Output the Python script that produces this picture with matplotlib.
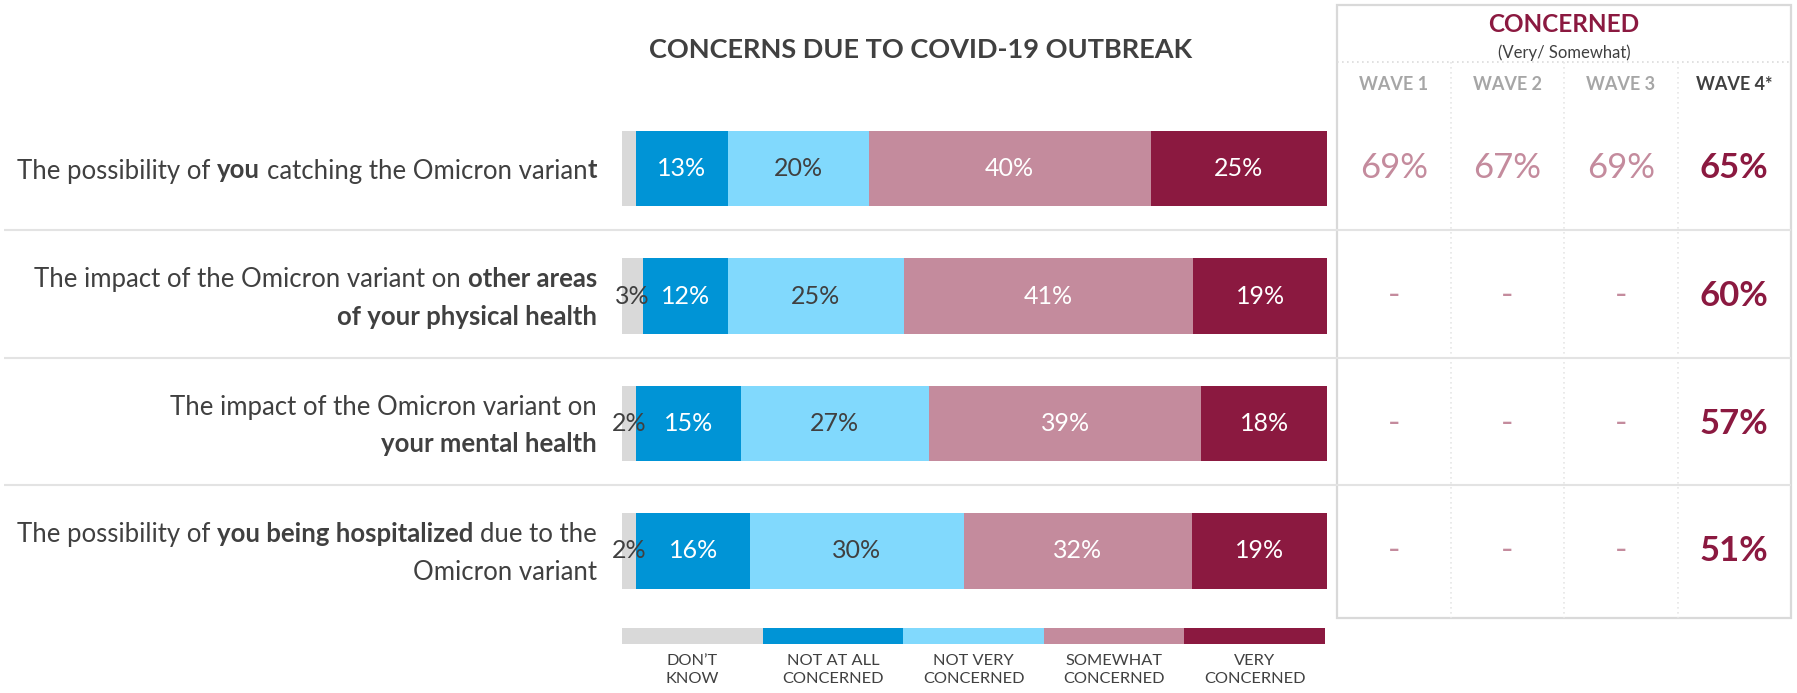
import matplotlib
matplotlib.use("Agg")
import matplotlib.pyplot as plt
from matplotlib.patches import Rectangle
import numpy as np

plt.rcParams['font.family'] = ['Lato', 'DejaVu Sans']

# ---------------- data ----------------
series_names = ["DON\u2019T\nKNOW", "NOT AT ALL\nCONCERNED", "NOT VERY\nCONCERNED",
                "SOMEWHAT\nCONCERNED", "VERY\nCONCERNED"]
dont_know = [2, 3, 2, 2]
not_at_all = [13, 12, 15, 16]
not_very = [20, 25, 27, 30]
somewhat = [40, 41, 39, 32]
very = [25, 19, 18, 19]
dk_label_shown = [False, True, True, True]

row_labels = [
    [[("The possibility of ", 0), ("you", 1), (" catching the Omicron varian", 0), ("t", 1)]],
    [[("The impact of the Omicron variant on ", 0), ("other areas", 1)],
     [("of your physical health", 1)]],
    [[("The impact of the Omicron variant on", 0)], [("your mental health", 1)]],
    [[("The possibility of ", 0), ("you being hospitalized", 1), (" due to the", 0)],
     [("Omicron variant", 0)]],
]

wave_headers = ["WAVE 1", "WAVE 2", "WAVE 3", "WAVE 4*"]
wave1 = [69, None, None, None]
wave2 = [67, None, None, None]
wave3 = [69, None, None, None]
wave4 = [65, 60, 57, 51]

title = "CONCERNS DUE TO COVID-19 OUTBREAK"
panel_title = "CONCERNED"
panel_sub = "(Very/ Somewhat)"

# ---------------- style ----------------
colors = ["#d9d9d9", "#0094d6", "#81d9fd", "#c48b9d", "#8b1940"]
label_colors = ["#404040", "white", "#404040", "white", "white"]
dark = "#404040"
maroon = "#8b1940"
pink = "#c48b9d"
grey_hdr = "#a6a6a6"
line_grey = "#e3e3e3"

W, H = 1797, 693
fig = plt.figure(figsize=(W / 100, H / 100), dpi=100)

# overlay axes in pixel coordinates (top-left origin) for decoration
ov = fig.add_axes([0, 0, 1, 1])
ov.set_xlim(0, W)
ov.set_ylim(H, 0)
ov.axis('off')

# bar axes
bx0, bx1 = 622, 1327
ytop, ybot = 104.75, 614.75
ax = fig.add_axes([bx0 / W, 1 - ybot / H, (bx1 - bx0) / W, (ybot - ytop) / H])
ax.set_xlim(0, 100)
ax.set_ylim(3.5, -0.5)
ax.axis('off')

data = np.array([dont_know, not_at_all, not_very, somewhat, very], dtype=float)
totals = data.sum(axis=0)
norm = data / totals * 100
rows = np.arange(len(dont_know))
left = np.zeros(len(rows))
bar_fs = 18
for k in range(len(data)):
    ax.barh(rows, norm[k], left=left, height=0.59, color=colors[k], edgecolor='none')
    for r in rows:
        show = dk_label_shown[r] if k == 0 else True
        if show:
            ax.text(left[r] + norm[k][r] / 2, r, f"{int(data[k][r])}%", ha='center',
                    va='center', fontsize=bar_fs, color=label_colors[k])
    left += norm[k]

# table axes
tx0, tx1 = 1337, 1791
tx = fig.add_axes([tx0 / W, 1 - ybot / H, (tx1 - tx0) / W, (ybot - ytop) / H])
tx.set_xlim(-0.5, 3.5)
tx.set_ylim(3.5, -0.5)
tx.axis('off')
waves = [wave1, wave2, wave3, wave4]
for c, wv in enumerate(waves):
    for r, v in enumerate(wv):
        last = c == len(waves) - 1
        if v is None:
            tx.text(c, r, "-", ha='center', va='center', fontsize=24, color=pink)
        else:
            tx.text(c, r, f"{v}%", ha='center', va='center', fontsize=25,
                    color=maroon if last else pink,
                    fontweight='bold' if last else 'normal')

# headers of the table (pixel coords)
col_w = (tx1 - tx0) / 4
for c, h in enumerate(wave_headers):
    ov.text(tx0 + col_w * (c + 0.5), 85, h, ha='center', va='center', fontsize=13,
            fontweight='bold', color=dark if c == 3 else grey_hdr)
ov.text((tx0 + tx1) / 2, 25, panel_title, ha='center', va='center', fontsize=17.5,
        fontweight='bold', color=maroon)
ov.text((tx0 + tx1) / 2, 53, panel_sub, ha='center', va='center', fontsize=12, color=dark)

# panel border and dotted lines
ov.add_patch(Rectangle((tx0, 5), tx1 - tx0, 613, fill=False, edgecolor="#d9d9d9", lw=1.6))
ov.plot([tx0, tx1], [62, 62], color="#dcdcdc", lw=1.2, ls=(0, (1, 2)))
for c in range(1, 4):
    xx = tx0 + col_w * c
    ov.plot([xx, xx], [62, 618], color="#e6e6e6", lw=1.2, ls=(0, (1, 2)))

# row separators
for r in range(len(rows) - 1):
    ysep = ax.transData.transform((0, r + 0.5))[1]
    ysep = H - ysep - 2
    ov.plot([4, tx1], [ysep, ysep], color=line_grey, lw=1.5, solid_capstyle='butt')

# title
ov.text(921, 50, title, ha='center', va='center', fontsize=19.5, fontweight='bold', color=dark)

# row labels with mixed weights
renderer = fig.canvas.get_renderer()
lab_fs = 18.5


def tw(s, bold):
    if s == "":
        return 0.0
    t = ov.text(0, 0, "|" + s + "|", fontsize=lab_fs, fontweight='bold' if bold else 'normal')
    w1 = t.get_window_extent(renderer).width
    t.set_text("||")
    w2 = t.get_window_extent(renderer).width
    t.remove()
    return w1 - w2


def draw_line(x_right, y, segs):
    parts = []
    total = 0.0
    for s, b in segs:
        core = s.strip()
        lead = s[:len(s) - len(s.lstrip())]
        trail = s[len(s.rstrip()):]
        wl, wc, wt = tw(lead, b), tw(core, b), tw(trail, b)
        parts.append((core, b, wl, wc, wt))
        total += wl + wc + wt
    x = x_right - total
    for core, b, wl, wc, wt in parts:
        x += wl
        ov.text(x, y, core, ha='left', va='center_baseline', fontsize=lab_fs,
                fontweight='bold' if b else 'normal', color=dark)
        x += wc + wt


x_right = 597
line_gap = 38
for r, lines in enumerate(row_labels):
    yc = H - ax.transData.transform((0, r))[1]
    n = len(lines)
    for i, segs in enumerate(lines):
        y = yc + (i - (n - 1) / 2) * line_gap
        draw_line(x_right, y, segs)

# legend
lx0, lx1 = 622, 1325
lax = fig.add_axes([lx0 / W, 1 - 644 / H, (lx1 - lx0) / W, 16 / H])
lax.set_xlim(0, len(series_names))
lax.set_ylim(-0.5, 0.5)
lax.axis('off')
for k, name in enumerate(series_names):
    lax.barh(0, 1, left=k, height=1, color=colors[k], edgecolor='none')
    lax.annotate(name, xy=(k + 0.5, -0.5), xytext=(0, -7.5), textcoords='offset points',
                 ha='center', va='top', fontsize=11.8, color=dark, linespacing=1.3,
                 annotation_clip=False)

fig.savefig("out.png", dpi=100)
